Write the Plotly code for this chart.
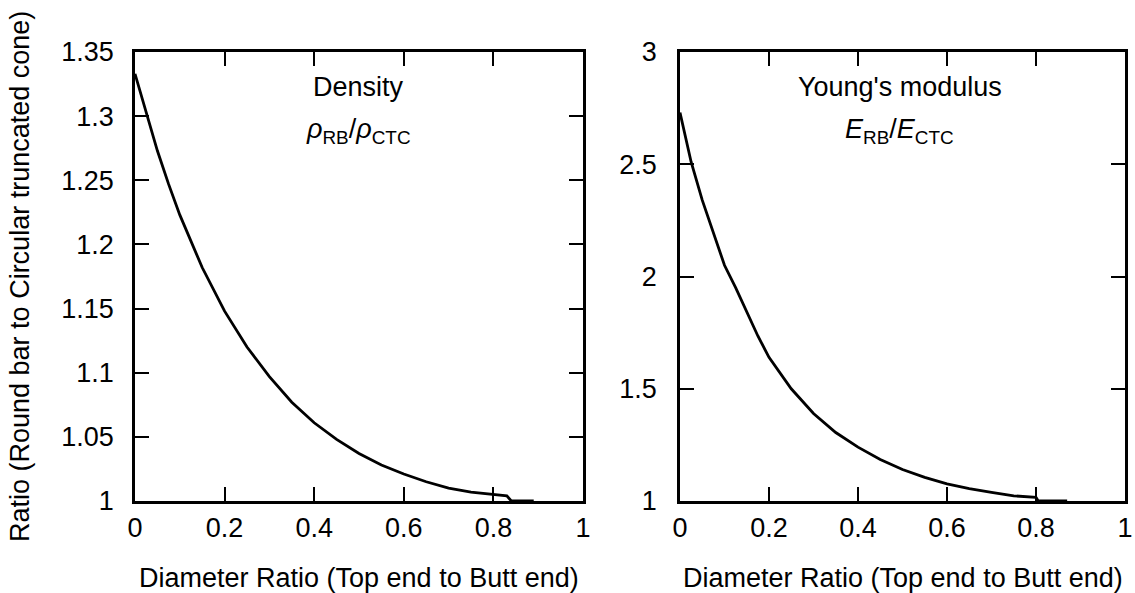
import plotly.graph_objects as go

# ---- data ----
density_x = [0, 0.025, 0.05, 0.075, 0.1, 0.15, 0.2, 0.25, 0.3, 0.35, 0.4, 0.45,
             0.5, 0.55, 0.6, 0.65, 0.7, 0.75, 0.8, 0.83, 0.84, 0.89]
density_y = [1.333, 1.302, 1.273, 1.247, 1.223, 1.182, 1.148, 1.120, 1.097, 1.077,
             1.061, 1.048, 1.037, 1.028, 1.021, 1.015, 1.010, 1.007, 1.005, 1.004,
             1.0, 1.0]

young_x = [0, 0.025, 0.05, 0.075, 0.1, 0.125, 0.15, 0.175, 0.2, 0.25, 0.3, 0.35,
           0.4, 0.45, 0.5, 0.55, 0.6, 0.65, 0.7, 0.75, 0.8, 0.805, 0.87]
young_y = [2.73, 2.51, 2.34, 2.19, 2.05, 1.95, 1.84, 1.735, 1.64, 1.50, 1.39, 1.305,
           1.24, 1.185, 1.14, 1.105, 1.076, 1.055, 1.038, 1.023, 1.016, 1.0, 1.0]

x_ticks = [0, 0.2, 0.4, 0.6, 0.8, 1]
x_ticktext = ["0", "0.2", "0.4", "0.6", "0.8", "1"]
left_yticks = [1, 1.05, 1.1, 1.15, 1.2, 1.25, 1.3, 1.35]
left_ytext = ["1", "1.05", "1.1", "1.15", "1.2", "1.25", "1.3", "1.35"]
right_yticks = [1, 1.5, 2, 2.5, 3]
right_ytext = ["1", "1.5", "2", "2.5", "3"]

x_title = "Diameter Ratio (Top end to Butt end)"
y_title = "Ratio (Round bar to Circular truncated cone)"

# ---- figure ----
W, H = 1135, 593
FONT = "Liberation Sans, Arial, sans-serif"
FS = 27

def px(v):
    return v / W

def py(v):
    return 1 - v / H

fig = go.Figure()
fig.add_trace(go.Scatter(x=density_x, y=density_y, mode="lines",
                         line=dict(color="black", width=2.8),
                         xaxis="x", yaxis="y", showlegend=False))
fig.add_trace(go.Scatter(x=young_x, y=young_y, mode="lines",
                         line=dict(color="black", width=2.8),
                         xaxis="x2", yaxis="y2", showlegend=False))

axis_common = dict(showline=True, linecolor="black", linewidth=2.5, mirror="ticks",
                   ticks="inside", ticklen=14, tickwidth=2.2, tickcolor="black",
                   showgrid=False, zeroline=False, automargin=False,
                   tickfont=dict(family=FONT, size=FS, color="black"))

top, bottom = 52, 501
fig.update_layout(
    width=W, height=H,
    margin=dict(l=0, r=0, t=0, b=0),
    paper_bgcolor="white", plot_bgcolor="white",
    xaxis=dict(domain=[px(135), px(583)], range=[0, 1], anchor="y",
               tickvals=x_ticks, ticktext=x_ticktext, ticklabelstandoff=1, **axis_common),
    yaxis=dict(domain=[py(bottom), py(top)], range=[1, 1.35], anchor="x",
               tickvals=left_yticks, ticktext=left_ytext, ticklabelstandoff=13, **axis_common),
    xaxis2=dict(domain=[px(680), px(1125)], range=[0, 1], anchor="y2",
                tickvals=x_ticks, ticktext=x_ticktext, ticklabelstandoff=1, **axis_common),
    yaxis2=dict(domain=[py(bottom), py(top)], range=[1, 3], anchor="x2",
                tickvals=right_yticks, ticktext=right_ytext, ticklabelstandoff=15, **axis_common),
)

ann_font = dict(family=FONT, size=FS, color="black")
annotations = [
    dict(text=x_title, x=px((135 + 583) / 2), y=py(578), xref="paper", yref="paper",
         xanchor="center", yanchor="middle", showarrow=False, font=ann_font),
    dict(text=x_title, x=px((680 + 1125) / 2), y=py(578), xref="paper", yref="paper",
         xanchor="center", yanchor="middle", showarrow=False, font=ann_font),
    dict(text=y_title, x=px(20), y=py(277), xref="paper", yref="paper", textangle=-90,
         xanchor="center", yanchor="middle", showarrow=False, font=ann_font),
    dict(text="Density", x=px(358), y=py(87), xref="paper", yref="paper",
         xanchor="center", yanchor="middle", showarrow=False, font=ann_font),
    dict(text="<i>ρ</i><sub>RB</sub>/<i>ρ</i><sub>CTC</sub>", x=px(358), y=py(131),
         xref="paper", yref="paper", xanchor="center", yanchor="middle",
         showarrow=False, font=ann_font),
    dict(text="Young's modulus", x=px(900), y=py(87), xref="paper", yref="paper",
         xanchor="center", yanchor="middle", showarrow=False, font=ann_font),
    dict(text="<i>E</i><sub>RB</sub>/<i>E</i><sub>CTC</sub>", x=px(900), y=py(131),
         xref="paper", yref="paper", xanchor="center", yanchor="middle",
         showarrow=False, font=ann_font),
]
fig.update_layout(annotations=annotations)

fig.write_html("out.html", config={"displayModeBar": False},
               post_script="document.body.style.margin='0px';")
